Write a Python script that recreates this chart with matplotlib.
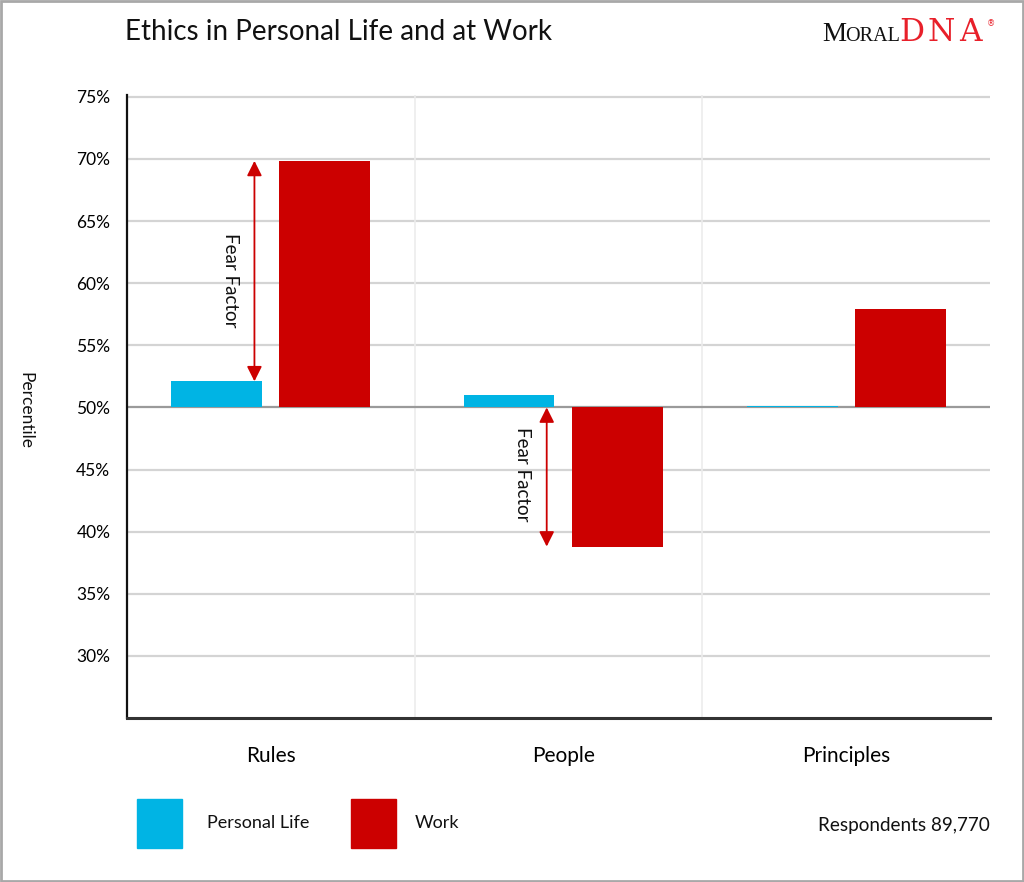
import matplotlib
matplotlib.use("Agg")
import matplotlib.pyplot as plt
from matplotlib.patches import Rectangle
import numpy as np

categories = ["Rules", "People", "Principles"]
personal = [52.1, 51.0, 50.15]
work = [69.85, 38.8, 57.9]
yticks = [30, 35, 40, 45, 50, 55, 60, 65, 70, 75]
ytick_labels = ["30%", "35%", "40%", "45%", "50%", "55%", "60%", "65%", "70%", "75%"]
baseline = 50
fear_cats = [0, 1]
respondents = "Respondents 89,770"

BLUE = "#00b4e4"
RED = "#cc0000"
FONT = "Lato"

plt.rcParams['font.family'] = [FONT, 'DejaVu Sans']

W, H = 1024, 882
fig = plt.figure(figsize=(W/100, H/100), dpi=100)
ax = fig.add_axes([127/W, 1-718/H, (990-127)/W, (718-95)/H])

# category positions (layout)
x = np.array([0.0, 1.016, 2.0])
bw = 0.316
off = 0.188
for i in range(len(categories)):
    ax.bar(x[i]-off, personal[i]-baseline, bw, bottom=baseline, color=BLUE, zorder=3)
    ax.bar(x[i]+off, work[i]-baseline, bw, bottom=baseline, color=RED, zorder=3)

ax.set_xlim(-0.5, 2.5)
ax.set_ylim(25, 75.15)

for t in yticks:
    if t == baseline:
        ax.axhline(t, color="#9a9a9a", lw=1.6, zorder=2)
    else:
        ax.axhline(t, color="#d4d4d4", lw=1.6, zorder=1)
for b in [0.5, 1.5]:
    ax.axvline(b, color="#ececec", lw=1.2, zorder=1)

ax.set_yticks(yticks)
ax.set_yticklabels(ytick_labels, fontsize=12.5)
ax.tick_params(axis='y', length=0, pad=12)
ax.set_xticks(x)
ax.set_xticklabels(categories, fontsize=15)
ax.tick_params(axis='x', length=0, pad=20)

for s in ["top", "right"]:
    ax.spines[s].set_visible(False)
ax.spines["left"].set_color("#111111")
ax.spines["left"].set_linewidth(1.6)
ax.spines["bottom"].set_color("#333333")
ax.spines["bottom"].set_linewidth(2.2)

# Fear factor arrows
text_dy = {0: -0.7, 1: 0.2}
for i in fear_cats:
    ax_x = x[i] - off + bw/2 - 0.027
    top = max(personal[i], work[i])
    bot = min(personal[i], work[i])
    if work[i] < baseline:
        top = baseline
    ax.annotate("", xy=(ax_x, top), xytext=(ax_x, bot),
                arrowprops=dict(arrowstyle="<|-|>,head_length=0.9,head_width=0.45",
                                color=RED, lw=1.3, shrinkA=0, shrinkB=0), zorder=4)
    ax.text(ax_x - 0.083, (top+bot)/2 + text_dy[i], "Fear Factor", rotation=-90,
            ha="center", va="center", fontsize=13.5, color="#111111", zorder=4)

# Title and logo
fig.text(125/W, 1-32/H, "Ethics in Personal Life and at Work", fontsize=20,
         ha="left", va="center", color="#111111")
LOGO = "Liberation Serif"
fig.text(822/W, 1-41/H, "M", fontsize=19.5, family=LOGO, ha="left", va="baseline", color="#111111")
fig.text(845/W, 1-41/H, "ORAL", fontsize=14.5, family=LOGO, ha="left", va="baseline", color="#111111")
for ch, cx in zip("DNA", [912, 941, 970]):
    fig.text(cx/W, 1-41/H, ch, fontsize=22.5, family="DejaVu Serif", ha="center", va="baseline",
             color="#e8202a", fontweight="light")
fig.text(991/W, 1-24/H, "®", fontsize=6, family="DejaVu Sans", ha="center", va="center", color="#e8202a")

# y label
fig.text(25/W, 1-410/H, "Percentile", rotation=-90, fontsize=12.5, ha="center", va="center", color="#111111")

# Legend
fig.patches.append(Rectangle((137/W, 1-848/H), 45/W, 49/H, transform=fig.transFigure, color=BLUE))
fig.text(207/W, 1-823/H, "Personal Life", fontsize=13, ha="left", va="center", color="#111111")
fig.patches.append(Rectangle((351/W, 1-848/H), 45/W, 49/H, transform=fig.transFigure, color=RED))
fig.text(415/W, 1-823/H, "Work", fontsize=13, ha="left", va="center", color="#111111")
fig.text(990/W, 1-826/H, respondents, fontsize=13.6, ha="right", va="center", color="#111111")

# Border
fig.patches.append(Rectangle((0.001, 0.001), 0.998, 0.998, transform=fig.transFigure,
                             fill=False, edgecolor="#a8a8a8", lw=2))

fig.savefig("out.png", dpi=100)
